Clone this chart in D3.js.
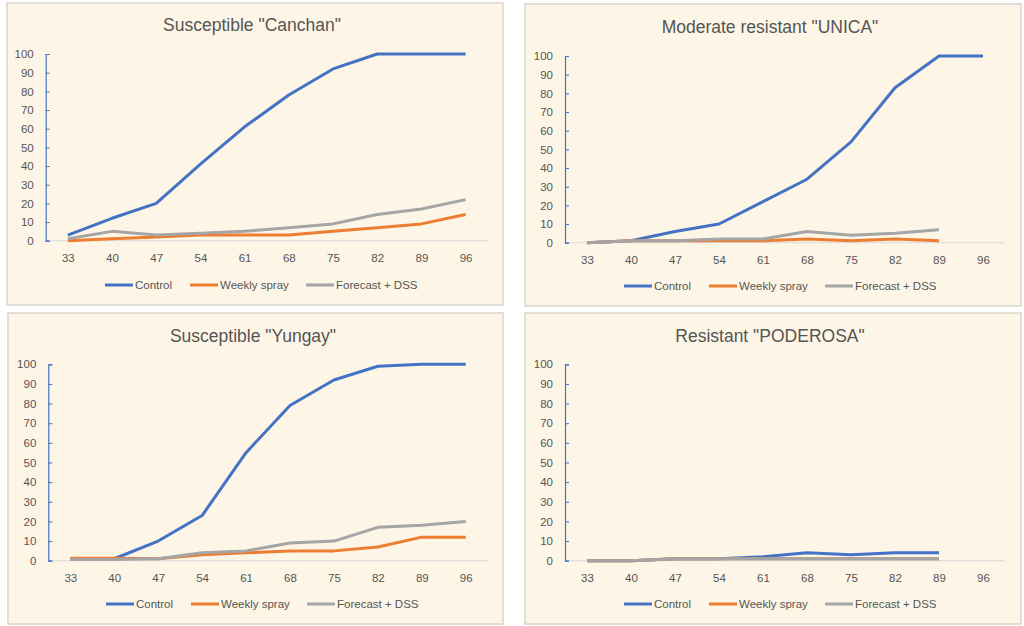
<!DOCTYPE html>
<html><head><meta charset="utf-8">
<script src="https://cdn.jsdelivr.net/npm/d3@7"></script>
<style>
html,body{margin:0;padding:0;background:#fff;}
svg{display:block;}
text{font-family:"Liberation Sans",Arial,sans-serif;}
</style></head>
<body>
<svg id="c" width="1024" height="626"></svg>
<script>
const days = ["33","40","47","54","61","68","75","82","89","96"];
const yTicks = [0,10,20,30,40,50,60,70,80,90,100];
const seriesNames = ["Control","Weekly spray","Forecast + DSS"];
const seriesColors = ["#4472C4","#ED7D31","#A5A5A5"];

const titles = ['Susceptible "Canchan"','Moderate resistant "UNICA"','Susceptible "Yungay"','Resistant "PODEROSA"'];

const canchanControl = [3,12,20,41,61,78,92,100,100,100];
const canchanWeekly  = [0,1,2,3,3,3,5,7,9,14];
const canchanDSS     = [1,5,3,4,5,7,9,14,17,22];

const unicaControl = [0,1,6,10,22,34,54,83,100,100];
const unicaWeekly  = [0,1,1,1,1,2,1,2,1];
const unicaDSS     = [0,1,1,2,2,6,4,5,7];

const yungayControl = [1,1,10,23,55,79,92,99,100,100];
const yungayWeekly  = [1.2,1.2,1,3,4,5,5,7,12,12];
const yungayDSS     = [0.6,0.6,1,4,5,9,10,17,18,20];

const poderosaControl = [0,0,1,1,2,4,3,4,4];
const poderosaWeekly  = [0,0,1,1,1,1,1,1,1];
const poderosaDSS     = [0,0,1,1,1,1,1,1,1];

const panelData = [
  [canchanControl, canchanWeekly, canchanDSS],
  [unicaControl, unicaWeekly, unicaDSS],
  [yungayControl, yungayWeekly, yungayDSS],
  [poderosaControl, poderosaWeekly, poderosaDSS]
];

// layout (positions only)
const layouts = [
  {bx:7,  by:3,   bw:496, bh:302, ax:45.7, ae:487.7, y0:240.7, y1:54,    tx:252, ty:31,  lx:105, ly:285},
  {bx:525,by:4,   bw:496, bh:302, ax:565,  ae:1005,  y0:242.7, y1:56,    tx:770, ty:33,  lx:624, ly:286},
  {bx:8,  by:313, bw:495, bh:311, ax:48.3, ae:487.7, y0:560.7, y1:364.3, tx:253, ty:342, lx:106, ly:604},
  {bx:525,by:313, bw:496, bh:311, ax:565,  ae:1005,  y0:560.7, y1:364.3, tx:770, ty:342, lx:624, ly:604}
];

const svg = d3.select("#c");

layouts.forEach((L, i) => {
  const g = svg.append("g");
  g.append("rect").attr("x",L.bx).attr("y",L.by).attr("width",L.bw).attr("height",L.bh)
    .attr("fill","#fdf6e7").attr("stroke","#d9d4cb").attr("stroke-width",1.5);

  g.append("text").attr("x",L.tx).attr("y",L.ty).attr("text-anchor","middle")
    .attr("font-size",17.5).attr("fill","#555555").text(titles[i]);

  const x = d3.scalePoint().domain(days).range([L.ax, L.ae]).padding(0.5);
  const y = d3.scaleLinear().domain([0,100]).range([L.y0, L.y1]);

  g.append("line").attr("x1",L.ax).attr("x2",L.ae).attr("y1",L.y0).attr("y2",L.y0)
    .attr("stroke","#d9d9d9").attr("stroke-width",1);

  const xa = g.append("g").attr("transform",`translate(0,${L.y0})`)
    .call(d3.axisBottom(x).tickSize(0).tickPadding(13));
  xa.select(".domain").remove();
  xa.selectAll("text").attr("font-size",11.5).attr("fill","#555555")
    .attr("font-family","Liberation Sans, Arial, sans-serif");

  const ya = g.append("g").attr("transform",`translate(${L.ax},0)`)
    .call(d3.axisLeft(y).tickValues(yTicks).tickSize(-4).tickPadding(12));
  ya.select(".domain").attr("stroke","#4472C4").attr("stroke-width",1.2);
  ya.selectAll(".tick line").attr("stroke","#4472C4").attr("stroke-width",1);
  ya.selectAll("text").attr("font-size",11.5).attr("fill","#555555")
    .attr("font-family","Liberation Sans, Arial, sans-serif");

  const line = d3.line().x((d,j) => x(days[j])).y(d => y(d));
  panelData[i].forEach((vals, s) => {
    g.append("path").datum(vals).attr("d", line)
      .attr("fill","none").attr("stroke",seriesColors[s]).attr("stroke-width",3)
      .attr("stroke-linejoin","round");
  });

  const offs = [0, 85, 201];
  seriesNames.forEach((n, s) => {
    const lx = L.lx + offs[s];
    g.append("line").attr("x1",lx).attr("x2",lx+28).attr("y1",L.ly).attr("y2",L.ly)
      .attr("stroke",seriesColors[s]).attr("stroke-width",3);
    g.append("text").attr("x",lx+30).attr("y",L.ly+4).attr("font-size",11.5)
      .attr("fill","#555555").text(n);
  });
});
</script>
</body></html>
